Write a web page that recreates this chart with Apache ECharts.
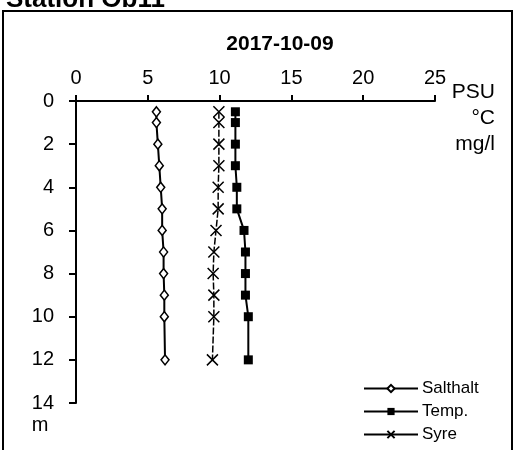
<!DOCTYPE html>
<html><head><meta charset="utf-8">
<script src="https://cdn.jsdelivr.net/npm/echarts@6/dist/echarts.min.js"></script>
<style>html,body{margin:0;padding:0;background:#fff}#c{width:516px;height:450px}</style>
</head><body><div id="c"></div>
<script>
var depths = [0.5, 1, 2, 3, 4, 5, 6, 7, 8, 9, 10, 12];
var salthalt = [5.6, 5.6, 5.7, 5.8, 5.9, 6.0, 6.0, 6.1, 6.1, 6.15, 6.15, 6.2];
var temp = [11.1, 11.1, 11.1, 11.1, 11.2, 11.2, 11.7, 11.8, 11.8, 11.8, 12.0, 12.0];
var syre = [9.95, 9.95, 9.95, 9.95, 9.9, 9.9, 9.75, 9.6, 9.55, 9.6, 9.6, 9.5];
var xTicks = [0, 5, 10, 15, 20, 25];
var yTicks = [0, 2, 4, 6, 8, 10, 12, 14];
var unitLabels = ['PSU', '°C', 'mg/l'];
var stationTitle = 'Station Ob11';
var dateTitle = '2017-10-09';

function pairs(vals){ return vals.map(function(v,i){ return [v, depths[i]]; }); }
var font = 'Liberation Sans, Arial, sans-serif';
var chart = echarts.init(document.getElementById('c'), null, {renderer:'canvas'});
var crossPath = 'path://M0,0L10,10M10,0L0,10';
chart.setOption({
  animation: false,
  textStyle: {fontFamily: font},
  grid: {left: 76, top: 101, width: 359, height: 302, containLabel: false},
  xAxis: {
    type: 'value', position: 'top', min: xTicks[0], max: xTicks[xTicks.length-1], interval: 5,
    axisLine: {onZero: false, lineStyle: {color: '#000', width: 2}},
    axisTick: {show: true, inside: false, length: 6, lineStyle: {color: '#000', width: 2}},
    axisLabel: {color: '#000', fontSize: 20, margin: 13, fontFamily: font},
    splitLine: {show: false}
  },
  yAxis: {
    type: 'value', inverse: true, min: yTicks[0], max: yTicks[yTicks.length-1], interval: 2,
    axisLine: {show: true, onZero: false, lineStyle: {color: '#000', width: 2}},
    axisTick: {show: true, inside: false, length: 7, lineStyle: {color: '#000', width: 2}},
    axisLabel: {color: '#000', fontSize: 20, margin: 22, fontFamily: font},
    splitLine: {show: false}
  },
  legend: {
    orient: 'vertical', left: 358, top: 375, itemWidth: 54, itemHeight: 9, itemGap: 6,
    textStyle: {fontSize: 17, color: '#000', fontFamily: font, padding: [0, 0, 0, -1]},
    data: [
      {name: 'Salthalt'},
      {name: 'Temp.'},
      {name: 'Syre', lineStyle: {type: 'solid', width: 2}}
    ]
  },
  series: [
    {name: 'Salthalt', type: 'line', data: pairs(salthalt), symbol: 'diamond', symbolSize: [8, 10],
     lineStyle: {color: '#000', width: 2}, itemStyle: {color: '#fff', borderColor: '#000', borderWidth: 1.5}},
    {name: 'Temp.', type: 'line', data: pairs(temp), symbol: 'rect', symbolSize: 9,
     lineStyle: {color: '#000', width: 2}, itemStyle: {color: '#000', borderColor: '#000', borderWidth: 0}},
    {name: 'Syre', type: 'line', data: pairs(syre), symbol: crossPath, symbolSize: 11,
     lineStyle: {color: '#000', width: 1.5, type: [7, 2]}, itemStyle: {color: '#000', borderColor: '#000', borderWidth: 1.5}}
  ],
  graphic: [
    {type: 'rect', shape: {x: 3, y: 11, width: 509, height: 450}, style: {fill: 'none', stroke: '#000', lineWidth: 2}, z: 0},
    {type: 'text', x: 6, y: 13, style: {text: stationTitle, fontSize: 26, fontWeight: 'bold', fill: '#000', fontFamily: font, textVerticalAlign: 'bottom'}},
    {type: 'text', x: 280, y: 44, style: {text: dateTitle, fontSize: 21, fontWeight: 'bold', fill: '#000', fontFamily: font, textAlign: 'center', textVerticalAlign: 'middle'}},
    {type: 'text', x: 495, y: 92, style: {text: unitLabels[0], fontSize: 21, fill: '#000', fontFamily: font, textAlign: 'right', textVerticalAlign: 'middle'}},
    {type: 'text', x: 495, y: 118, style: {text: unitLabels[1], fontSize: 21, fill: '#000', fontFamily: font, textAlign: 'right', textVerticalAlign: 'middle'}},
    {type: 'text', x: 495, y: 144, style: {text: unitLabels[2], fontSize: 21, fill: '#000', fontFamily: font, textAlign: 'right', textVerticalAlign: 'middle'}},
    {type: 'text', x: 40, y: 425, style: {text: 'm', fontSize: 20, fill: '#000', fontFamily: font, textAlign: 'center', textVerticalAlign: 'middle'}}
  ]
});
</script></body></html>
